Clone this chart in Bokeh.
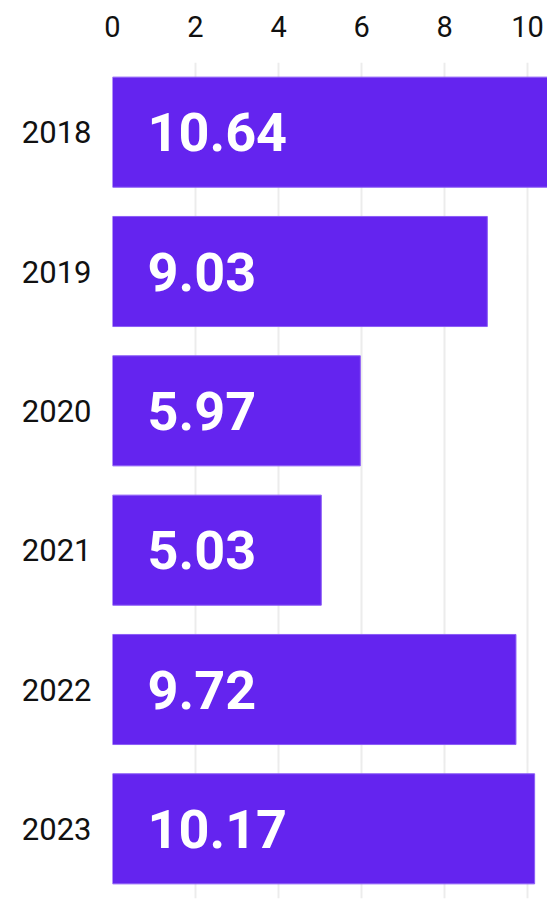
from bokeh.plotting import figure
from bokeh.models import ColumnDataSource, FactorRange, Range1d, FixedTicker
from bokeh.core.properties import value
from bokeh.embed import file_html
from bokeh.resources import INLINE

years = ["2018", "2019", "2020", "2021", "2022", "2023"]
values = [10.64, 9.03, 5.97, 5.03, 9.72, 10.17]
labels = ["10.64", "9.03", "5.97", "5.03", "9.72", "10.17"]
ticks = [0, 2, 4, 6, 8, 10]

src = ColumnDataSource(dict(year=years, val=values, lab=labels, zero=[0] * len(years)))

p = figure(width=547, height=902, output_backend="svg", toolbar_location=None,
           y_range=FactorRange(factors=years[::-1], range_padding=0),
           x_range=Range1d(0, 10.48),
           x_axis_location="above",
           min_border_left=112, min_border_right=0, min_border_top=62, min_border_bottom=4)
p.outline_line_color = None

p.hbar(y="year", right="val", left=0, height=0.79, source=src,
       fill_color="#6424EF", line_color="#8B5CF6", line_width=1)

p.text(x="zero", y="year", text="lab", source=src, x_offset=35,
       text_color="white", text_font=value("Roboto"), text_font_style="bold",
       text_font_size="54px", text_baseline="middle", text_align="left")

p.xaxis.ticker = FixedTicker(ticks=ticks)
p.xaxis.axis_line_color = None
p.xaxis.major_tick_line_color = None
p.xaxis.minor_tick_line_color = None
p.xaxis.major_label_text_font = "Roboto"
p.xaxis.major_label_text_font_size = "29px"
p.xaxis.major_label_text_color = "#111111"
p.xaxis.major_label_standoff = 20

p.yaxis.axis_line_color = None
p.yaxis.major_tick_line_color = None
p.yaxis.minor_tick_line_color = None
p.yaxis.major_label_text_font = "Roboto"
p.yaxis.major_label_text_font_size = "31px"
p.yaxis.major_label_text_color = "#111111"
p.yaxis.major_label_standoff = 15

p.xgrid.grid_line_color = "#ececec"
p.xgrid.grid_line_width = 2
p.ygrid.grid_line_color = None

open("out.html", "w").write(file_html(p, INLINE))
